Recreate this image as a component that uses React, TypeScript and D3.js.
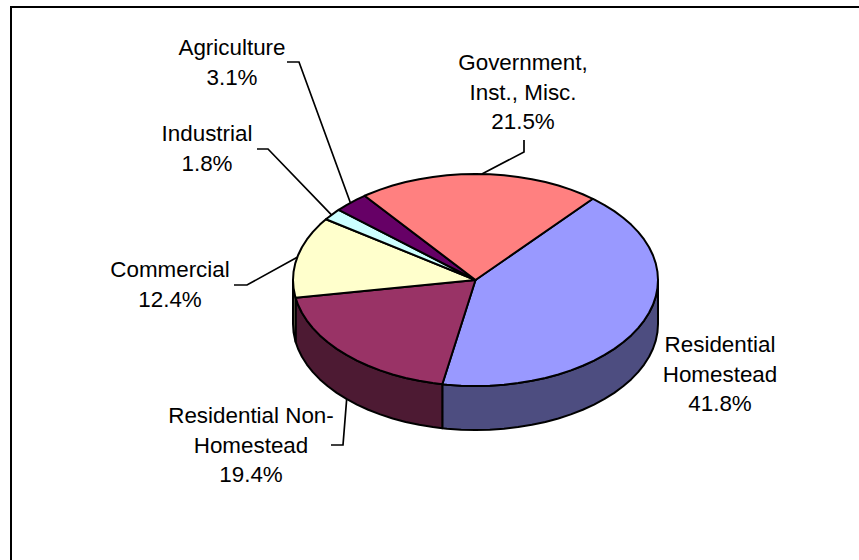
import React from "react";
import * as d3 from "d3";

// Share of the tax base by property class, in percent.
const categories = [
  "Residential Homestead",
  "Residential Non-Homestead",
  "Commercial",
  "Industrial",
  "Agriculture",
  "Government, Inst., Misc.",
];
const shares = [41.8, 19.4, 12.4, 1.8, 3.1, 21.5];

const topColors = ["#9999FF", "#993366", "#FFFFCC", "#CCFFFF", "#660066", "#FF8080"];
const sideColors = ["#4D4D80", "#4D1A33", "#808066", "#668080", "#330033", "#804040"];

// Text lines for each label, in the same order as the categories.
const labelLines = [
  ["Residential", "Homestead"],
  ["Residential Non-", "Homestead"],
  ["Commercial"],
  ["Industrial"],
  ["Agriculture"],
  ["Government,", "Inst., Misc."],
];

// Label anchor (centre x, first baseline) per category.
const labelX = [720, 251, 170, 207, 232, 523];
const labelY = [352, 423, 277, 141, 55, 70];

// Leader polylines: the elbow points run from the label towards the rim.
const leaderElbows: ([number, number][] | null)[] = [
  null,
  [[331, 445], [343, 445]],
  [[234, 285], [247, 285]],
  [[257, 149], [268, 149]],
  [[287, 62], [299, 62]],
  [[524, 140], [524, 152]],
];
const leaderOnSide = [false, true, false, false, false, false];
const leaderNudgeDeg = [0, -0.5, -0.3, -0.3, -0.3, 0.7];

const WIDTH = 859;
const HEIGHT = 560;
const CX = 475.5;
const CY = 280;
const RX = 182.5;
const RY = 106;
const DEPTH = 44;
const START_DEG = 40;
const STEP_DEG = 4.5;
const FONT = "'Liberation Sans', Arial, sans-serif";
const FONT_SIZE = 22.4;
const LINE_GAP = 29.5;

const rad = (deg: number) => (deg * Math.PI) / 180;

const xScale = d3.scaleLinear().domain([-1, 1]).range([CX - RX, CX + RX]);
const yScale = d3.scaleLinear().domain([-1, 1]).range([CY - RY, CY + RY]);

// Angles run clockwise from twelve o'clock, flattened onto the tilted disc.
const rim = (angle: number, drop = 0): [number, number] => [
  xScale(Math.sin(angle)),
  yScale(-Math.cos(angle)) + drop,
];

// The rim is a coarse polygon rather than a true curve.
const sampleAngles = (a0: number, a1: number) => {
  const step = rad(STEP_DEG);
  const inner = d3.range(Math.ceil(a0 / step), Math.floor(a1 / step) + 1).map((k) => k * step);
  return [a0, ...inner.filter((a) => a > a0 && a < a1), a1];
};

const polygon = d3.line<[number, number]>().curve(d3.curveLinearClosed);
const polyline = d3.line<[number, number]>();

const pieLayout = d3
  .pie<number>()
  .sort(null)
  .startAngle(rad(START_DEG))
  .endAngle(rad(START_DEG + 360));

export default function App() {
  const arcs = pieLayout(shares);

  const frontFrom = rad(90);
  const frontTo = rad(270);

  return (
    <svg
      width={WIDTH}
      height={HEIGHT}
      style={{ position: "absolute", left: 0, top: 0, background: "#fff" }}
    >
      {/* Chart area border: only the top and left edges fall inside the view */}
      <path d={`M11 ${HEIGHT}V7H${WIDTH}`} fill="none" stroke="#000" strokeWidth={2} />

      {/* Front wall of the disc */}
      {arcs.map((arc, i) => {
        const a0 = Math.max(arc.startAngle, frontFrom);
        const a1 = Math.min(arc.endAngle, frontTo);
        if (a1 <= a0) return null;
        const angles = sampleAngles(a0, a1);
        const pts: [number, number][] = [
          ...angles.map((a) => rim(a)),
          ...angles.slice().reverse().map((a) => rim(a, DEPTH)),
        ];
        return (
          <path
            key={categories[i]}
            d={polygon(pts) ?? ""}
            fill={sideColors[i]}
            stroke="#000"
            strokeWidth={2}
            strokeLinejoin="round"
          />
        );
      })}

      {/* Top face */}
      {arcs.map((arc, i) => {
        const pts: [number, number][] = [
          [CX, CY],
          ...sampleAngles(arc.startAngle, arc.endAngle).map((a) => rim(a)),
        ];
        return (
          <path
            key={categories[i]}
            d={polygon(pts) ?? ""}
            fill={topColors[i]}
            stroke="#000"
            strokeWidth={2}
            strokeLinejoin="round"
          />
        );
      })}

      {/* Leader lines end at the middle of their slice's rim */}
      {arcs.map((arc, i) => {
        const elbows = leaderElbows[i];
        if (!elbows) return null;
        const mid = (arc.startAngle + arc.endAngle) / 2 + rad(leaderNudgeDeg[i]);
        const end = rim(mid, leaderOnSide[i] ? DEPTH : 0);
        return (
          <path
            key={categories[i]}
            d={polyline([...elbows, end]) ?? ""}
            fill="none"
            stroke="#000"
            strokeWidth={1.7}
          />
        );
      })}

      {/* Labels */}
      {categories.map((name, i) => (
        <text
          key={name}
          fontFamily={FONT}
          fontSize={FONT_SIZE}
          fill="#000"
          textAnchor="middle"
        >
          {[...labelLines[i], `${d3.format(".1f")(shares[i])}%`].map((line, j) => (
            <tspan key={j} x={labelX[i]} y={labelY[i] + j * LINE_GAP}>
              {line}
            </tspan>
          ))}
        </text>
      ))}
    </svg>
  );
}
